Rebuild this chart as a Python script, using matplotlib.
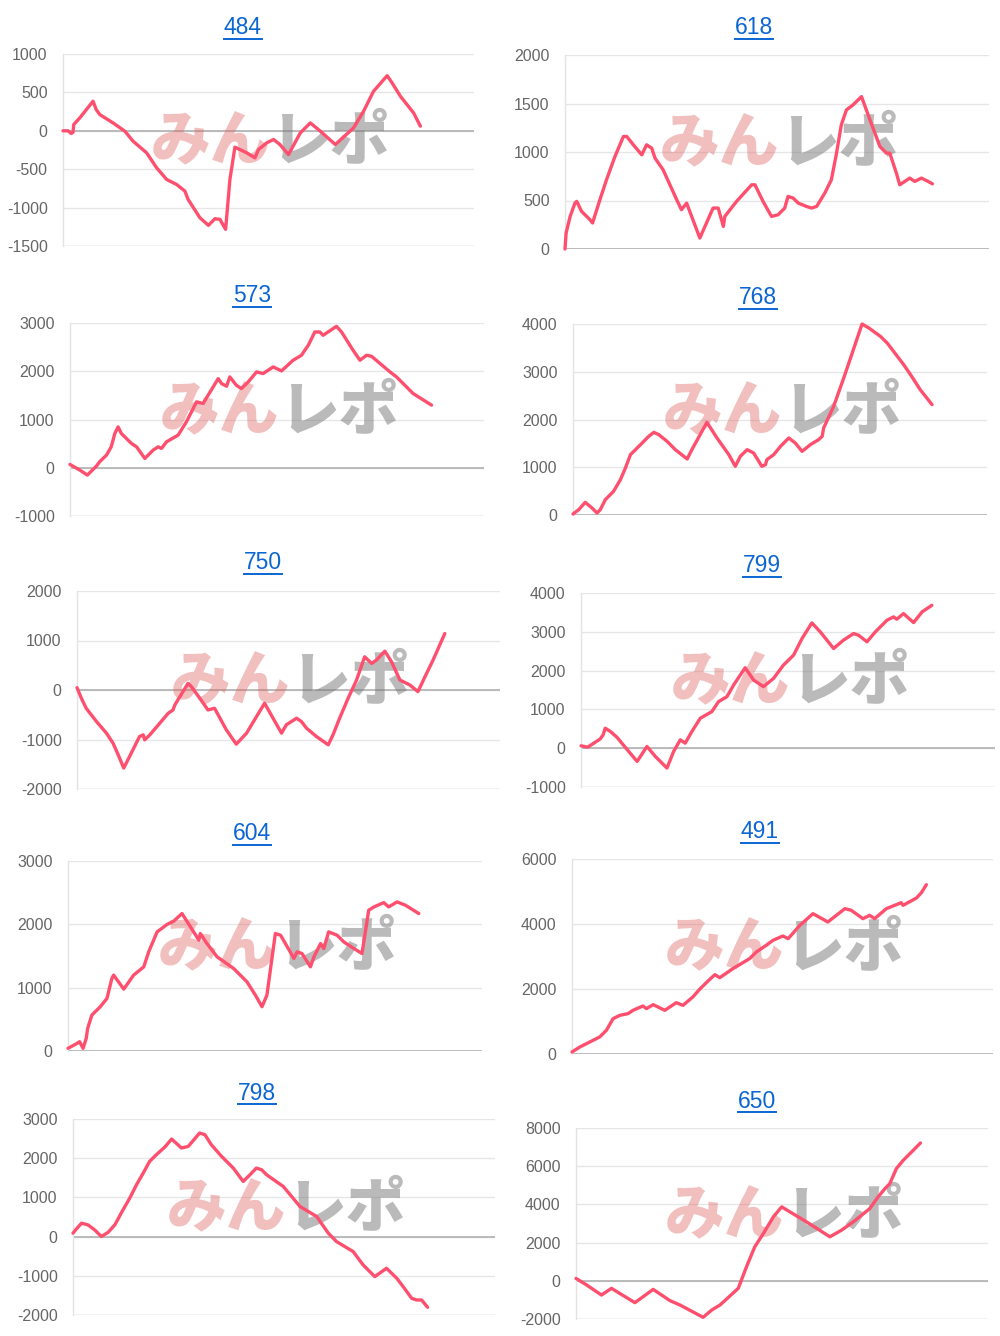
import matplotlib
matplotlib.use('Agg')
import matplotlib.pyplot as plt
from matplotlib.lines import Line2D
import numpy as np

plt.rcParams['font.family'] = ['Liberation Sans', 'DejaVu Sans']
plt.rcParams['axes.unicode_minus'] = False

W, H = 1000, 1336
fig = plt.figure(figsize=(W / 100, H / 100), dpi=100)
fig.patch.set_facecolor('white')

LINE = '#ff4f6e'
TITLE_BLUE = '#0b66d3'
TICK_GRAY = '#666666'

# ---------------- data (progress 0-100 vs. diff coins) ----------------
titles = ['484', '618', '573', '768', '750', '799', '604', '491', '798', '650']

x_484 = [0, 1.4, 2.3, 2.8, 3.0, 4.7, 8.4, 9.3, 10.3, 14.0, 17.3, 19.6, 23.4, 26.2, 29.0,
         31.8, 34.1, 35.0, 38.3, 40.7, 42.5, 43.9, 45.5, 46.7, 48.1, 51.4, 53.7, 54.7,
         57.0, 58.9, 60.7, 63.1, 66.4, 69.2, 72.0, 76.2, 81.3, 84.1, 86.9, 90.7, 92.1,
         94.4, 98.1, 100]
y_484 = [0, 0, -35, -20, 81, 168, 385, 276, 211, 103, -5, -135, -287, -482, -634,
         -699, -785, -893, -1132, -1231, -1145, -1153, -1283, -634, -213, -287, -352, -244,
         -157, -113, -179, -309, -27, 103, -5, -179, 38, 255, 515, 718, 623,
         450, 233, 60]

x_618 = [0, 0.3, 1.4, 2.7, 3.2, 4.5, 6.8, 7.5, 9.5, 11.3, 13.6, 15.9, 16.8, 18.6, 20.9,
         22.2, 23.6, 24.5, 26.7, 30.4, 31.7, 33.1, 36.7, 40.3, 41.7, 43.1, 43.5, 46.7,
         50.8, 51.7, 53.9, 56.2, 58.0, 59.8, 60.7, 62.1, 63.5, 65.7, 67.1, 68.5, 70.7,
         72.5, 73.9, 75.2, 76.6, 78.4, 80.7, 83.0, 85.7, 87.5, 88.4, 90.2, 91.1, 92.5,
         93.8, 95.2, 97.0, 98.8, 100]
y_618 = [0, 165, 336, 473, 491, 388, 302, 268, 508, 714, 954, 1160, 1160, 1074, 971,
         1074, 1040, 937, 817, 508, 405, 473, 113, 422, 422, 233, 336, 491,
         662, 662, 491, 336, 353, 422, 542, 525, 473, 439, 422, 439, 576,
         714, 988, 1280, 1434, 1486, 1571, 1331, 1057, 988, 988, 782, 662, 697,
         731, 697, 731, 697, 672]

x_573 = [0, 2.7, 4.8, 7.3, 8.2, 10.1, 11.4, 12.4, 13.3, 14.2, 17.0, 18.4, 20.7, 23.0,
         24.4, 25.3, 26.7, 29.9, 32.2, 35.0, 36.8, 39.6, 41.0, 41.9, 43.3, 44.2, 46.0,
         47.4, 49.3, 51.6, 53.4, 56.2, 58.5, 61.7, 64.0, 65.9, 67.7, 69.1, 70.0, 73.7,
         75.1, 78.3, 80.2, 82.0, 83.4, 88.5, 90.3, 94.9, 100]
y_573 = [69, -48, -152, 34, 124, 262, 434, 710, 848, 710, 503, 434, 193, 366,
         434, 400, 538, 676, 952, 1366, 1331, 1676, 1848, 1745, 1690, 1883, 1710,
         1641, 1779, 1986, 1952, 2090, 2007, 2228, 2331, 2538, 2814, 2814, 2745, 2931,
         2814, 2434, 2228, 2331, 2310, 1986, 1883, 1538, 1297]

x_768 = [0, 1.6, 3.4, 5.3, 6.7, 7.6, 9.0, 11.3, 13.2, 14.6, 16.0, 18.8, 21.1, 22.5,
         23.9, 26.2, 28.5, 31.8, 33.1, 37.3, 40.1, 43.4, 45.2, 46.6, 48.5, 50.3, 52.6,
         53.6, 54.0, 55.9, 57.8, 60.1, 61.9, 63.8, 66.1, 68.4, 69.4, 69.8, 72.6, 75.4,
         77.3, 80.5, 82.4, 85.6, 87.5, 92.1, 94.0, 96.7, 100]
y_768 = [21, 112, 265, 147, 42, 112, 321, 496, 740, 984, 1264, 1473, 1648, 1731,
         1682, 1543, 1368, 1173, 1368, 1941, 1613, 1264, 1019, 1229, 1368, 1299, 1019,
         1054, 1159, 1264, 1438, 1613, 1508, 1333, 1473, 1578, 1648, 1822, 2276, 2869,
         3288, 4000, 3916, 3742, 3602, 3148, 2939, 2625, 2311]

x_750 = [0, 1.2, 2.5, 5.3, 8.0, 9.8, 11.2, 12.7, 13.4, 15.2, 17.0, 18.0, 18.4, 19.8,
         22.5, 24.8, 26.1, 26.6, 28.8, 30.2, 31.1, 33.4, 35.6, 37.4, 40.6, 43.3, 46.1,
         48.8, 51.0, 53.3, 55.6, 56.9, 59.7, 61.0, 62.4, 65.1, 68.3, 69.6, 71.4, 73.7,
         76.0, 78.2, 80.1, 81.4, 83.7, 85.5, 87.8, 90.5, 92.7, 94.6, 96.8, 98.6, 100]
y_750 = [47, -168, -369, -637, -872, -1074, -1309, -1577, -1476, -1208, -940, -906, -1007, -906,
         -671, -470, -403, -302, -33, 134, 67, -168, -403, -369, -805, -1094, -872,
         -537, -268, -570, -872, -704, -570, -637, -772, -940, -1107, -906, -570, -168,
         201, 671, 537, 604, 785, 571, 201, 101, -33, 268, 604, 906, 1141]

x_799 = [0, 1.9, 4.1, 5.5, 6.3, 6.9, 8.4, 10.3, 13.6, 16.0, 18.8, 21.2, 24.5, 26.4,
         28.3, 29.7, 31.6, 34.0, 37.3, 39.2, 41.6, 43.5, 45.4, 46.8, 49.2, 52.0, 54.9,
         57.7, 60.6, 63.0, 65.8, 68.2, 72.0, 74.8, 77.7, 79.1, 81.5, 83.9, 87.2, 89.1,
         90.0, 91.9, 94.8, 97.2, 100]
y_799 = [62, 27, 156, 241, 344, 515, 430, 276, -84, -341, 44, -213, -512, -84,
         216, 130, 430, 772, 943, 1200, 1329, 1628, 1885, 2074, 1757, 1586, 1800,
         2142, 2399, 2827, 3229, 2998, 2570, 2784, 2955, 2913, 2742, 2998, 3298, 3384,
         3324, 3469, 3238, 3512, 3683]

x_604 = [0, 2.6, 3.3, 4.3, 5.2, 5.6, 6.8, 9.2, 11.1, 12.5, 13.0, 15.9, 18.7, 21.6,
         23.0, 25.4, 28.2, 30.1, 32.5, 34.9, 37.3, 37.7, 39.6, 42.5, 47.2, 51.0, 53.4,
         55.3, 56.7, 59.1, 60.6, 64.4, 65.3, 66.7, 69.1, 70.1, 72.0, 72.9, 74.3, 76.7,
         78.6, 81.5, 83.8, 85.7, 87.2, 90.0, 91.4, 93.8, 96.2, 100]
y_604 = [42, 121, 147, 42, 200, 357, 567, 699, 830, 1145, 1198, 977, 1198, 1329,
         1566, 1881, 1997, 2049, 2170, 1960, 1750, 1855, 1697, 1487, 1303, 1093, 883,
         699, 883, 1855, 1828, 1461, 1566, 1539, 1329, 1487, 1697, 1618, 1881, 1828,
         1723, 1618, 1539, 2222, 2275, 2343, 2275, 2354, 2301, 2170]

x_491 = [0, 2.2, 5.0, 7.8, 9.7, 11.6, 13.5, 15.8, 17.2, 20.0, 21.0, 22.9, 26.2, 29.4,
         31.3, 34.1, 36.0, 37.9, 40.3, 41.7, 45.4, 50.1, 52.0, 54.8, 56.7, 59.5, 61.0,
         64.3, 68.0, 72.2, 77.0, 78.8, 82.1, 84.0, 85.4, 88.7, 91.5, 92.9, 93.4, 97.2,
         98.6, 100]
y_491 = [62, 215, 369, 523, 728, 1087, 1190, 1241, 1344, 1477, 1395, 1518, 1344, 1579,
         1497, 1754, 1990, 2195, 2441, 2349, 2626, 2933, 3138, 3344, 3497, 3631, 3549,
         3959, 4318, 4062, 4472, 4421, 4164, 4267, 4164, 4472, 4595, 4656, 4574, 4800,
         4964, 5210]

x_798 = [0, 0.9, 2.4, 4.2, 6.1, 8.0, 9.9, 11.8, 14.1, 16.0, 17.9, 19.8, 21.6, 23.5,
         25.9, 27.8, 30.6, 32.5, 35.7, 37.2, 39.0, 41.9, 45.2, 48.0, 49.9, 51.7, 53.2,
         54.6, 59.3, 64.0, 68.7, 72.0, 74.3, 79.0, 81.8, 85.1, 88.4, 91.3, 93.1, 95.5,
         96.9, 98.3, 100]
y_798 = [87, 189, 342, 300, 172, 2, 109, 300, 683, 981, 1322, 1620, 1918, 2089,
         2284, 2489, 2259, 2302, 2642, 2600, 2344, 2046, 1748, 1407, 1577, 1748, 1705,
         1577, 1279, 768, 513, 87, -126, -382, -722, -1021, -808, -1063, -1276, -1574,
         -1617, -1617, -1804]

x_650 = [0, 3.1, 7.4, 10.3, 17.1, 22.4, 27.3, 30.2, 36.9, 39.4, 41.8, 47.1, 49.5, 51.9,
         54.4, 57.3, 59.7, 62.1, 66.9, 73.7, 77.1, 80.5, 85.3, 87.7, 89.7, 91.1, 93.0,
         95.0, 97.9, 100]
y_650 = [126, -222, -745, -396, -1145, -449, -1041, -1268, -1912, -1529, -1268, -396, 736, 1781,
         2478, 3349, 3871, 3610, 3088, 2304, 2652, 3088, 3784, 4394, 4829, 5090, 5875,
         6310, 6833, 7216]

xs = [x_484, x_618, x_573, x_768, x_750, x_799, x_604, x_491, x_798, x_650]
ys = [y_484, y_618, y_573, y_768, y_750, y_799, y_604, y_491, y_798, y_650]

# y-axis ticks (min, max, step)
y_ticks = [(-1500, 1000, 500), (0, 2000, 500), (-1000, 3000, 1000), (0, 4000, 1000),
           (-2000, 2000, 1000), (-1000, 4000, 1000), (0, 3000, 1000), (0, 6000, 2000),
           (-2000, 3000, 1000), (-2000, 8000, 2000)]

# ---------------- layout (pixels) ----------------
# left, right, top, bottom of plot area, x max, title x, title y
layout = [
    (63, 474, 54, 246, 115.0, 243, 28),
    (565, 989, 55, 249, 115.4, 754, 28),
    (70, 484, 323, 516, 114.5, 252, 296),
    (573, 987, 324, 515, 115.3, 758, 298),
    (77, 500, 591, 789, 115.0, 263, 563),
    (581, 995, 593, 787, 118.0, 762, 566),
    (68, 482, 861, 1051, 118.0, 252, 834),
    (572, 993, 859, 1054, 118.8, 760, 832),
    (73, 495, 1119, 1315, 119.0, 257, 1093),
    (576, 988, 1128, 1319, 119.6, 757, 1101),
]

title_texts = []
for i, (l, r, t, b, xmax, tx, ty) in enumerate(layout):
    ax = fig.add_axes([l / W, 1 - b / H, (r - l) / W, (b - t) / H])
    ymin, ymax, step = y_ticks[i]
    ax.set_xlim(0, xmax)
    ax.set_ylim(ymin, ymax)
    ax.set_yticks(np.arange(ymin, ymax + 1, step))
    ax.set_xticks([])
    ax.tick_params(axis='y', length=0, pad=11, labelsize=11.5, labelcolor=TICK_GRAY)
    for s in ['top', 'right', 'bottom']:
        ax.spines[s].set_visible(False)
    ax.spines['left'].set_color('#e3e3e3')
    ax.spines['left'].set_linewidth(1.0)
    ax.grid(axis='y', color='#e6e6e6', linewidth=1.0)
    ax.set_axisbelow(True)
    ax.axhline(0, color='#b0b0b0', linewidth=1.2, zorder=1)
    if ymin != 0:
        ax.axhline(ymin, color='#d8d8d8', linewidth=1.0, zorder=1)

    # watermark
    ax.text(0.505, 0.54, 'みん', transform=ax.transAxes, ha='right', va='center',
            fontsize=43, fontweight='heavy', color='#e06060', alpha=0.4,
            family=['Noto Sans CJK JP', 'DejaVu Sans'], zorder=2)
    ax.text(0.505, 0.54, 'レポ', transform=ax.transAxes, ha='left', va='center',
            fontsize=43, fontweight='heavy', color='#777777', alpha=0.5,
            family=['Noto Sans CJK JP', 'DejaVu Sans'], zorder=2)

    ax.plot(xs[i], ys[i], color=LINE, linewidth=2.4, solid_joinstyle='round',
            solid_capstyle='round', zorder=3, clip_on=False)

    tt = fig.text(tx / W, 1 - ty / H, titles[i], ha='center', va='center',
                  fontsize=16.5, color=TITLE_BLUE)
    title_texts.append((tt, ty))

# underline the link-style titles
fig.canvas.draw()
renderer = fig.canvas.get_renderer()
for tt, ty in title_texts:
    bb = tt.get_window_extent(renderer)
    uy = 1 - (ty + 11) / H
    fig.add_artist(Line2D([bb.x0 / W, bb.x1 / W], [uy, uy], color=TITLE_BLUE,
                          linewidth=1.4, transform=fig.transFigure))

plt.savefig('out.png', dpi=100, facecolor='white')
plt.close()
